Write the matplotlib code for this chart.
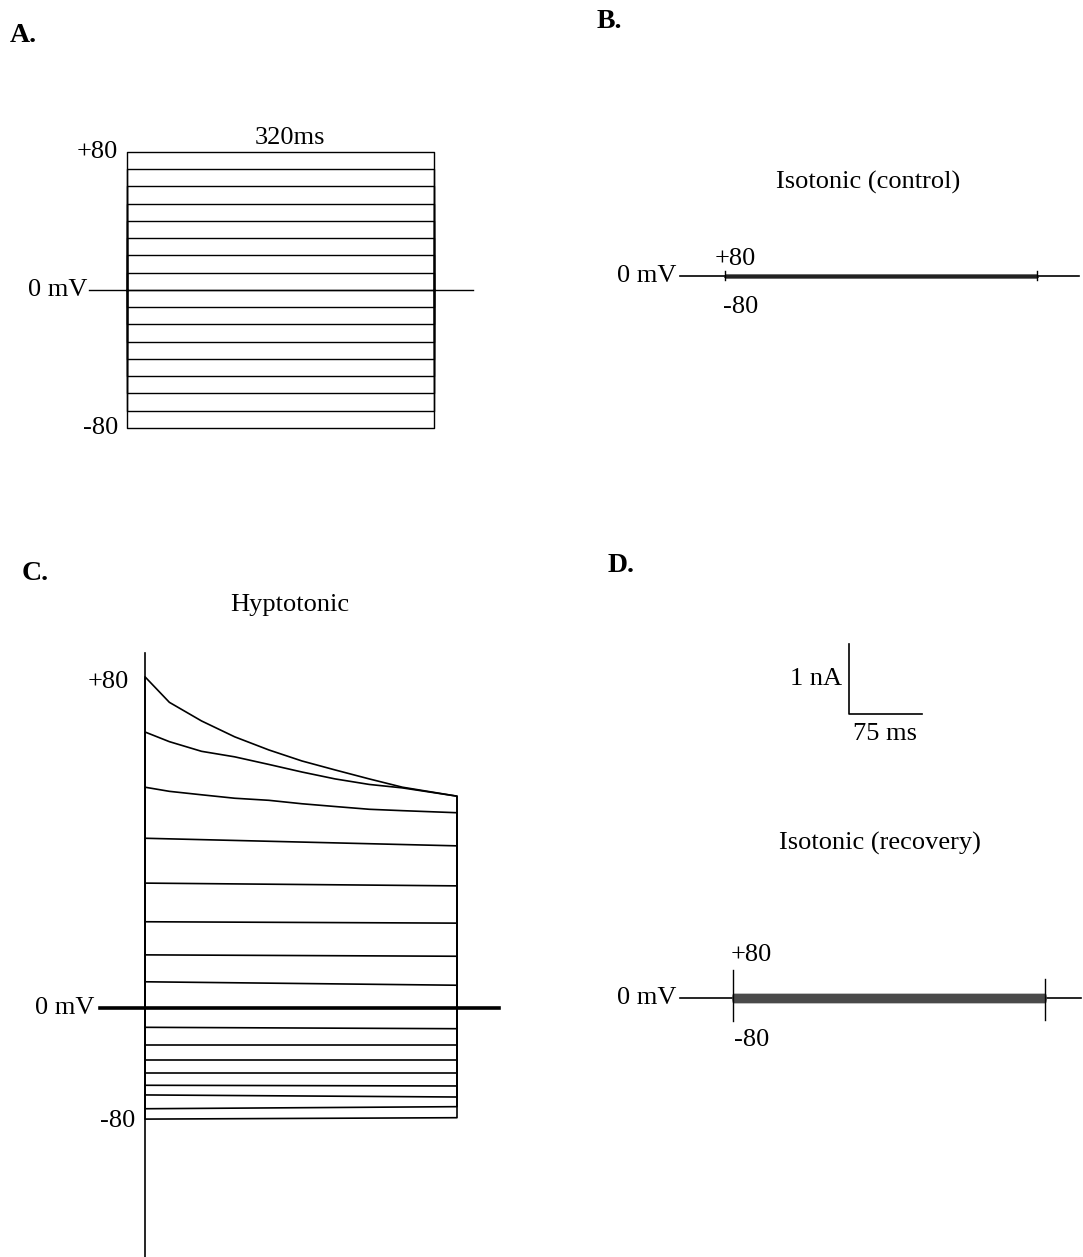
import numpy as np
import matplotlib
matplotlib.use("Agg")
from matplotlib import pyplot as plt

plt.rcParams["font.family"] = ["Liberation Serif", "DejaVu Serif"]

W, H = 1083, 1257

# voltage protocol (mV), 320 ms steps from a 0 mV holding level
steps_mV = [80, 70, 60, 50, 40, 30, 20, 10, 0, -10, -20, -30, -40, -50, -60, -70, -80]
step_ms = 320

# hypotonic currents (nA), start / end of each step
hypo_start = [4.80, 4.00, 3.20, 2.46, 1.81, 1.25, 0.77, 0.38, 0.0,
              -0.28, -0.54, -0.75, -0.94, -1.12, -1.26, -1.46, -1.61]
hypo_end = [3.07, 3.07, 2.83, 2.35, 1.77, 1.23, 0.75, 0.33, 0.0,
            -0.30, -0.54, -0.75, -0.94, -1.13, -1.29, -1.43, -1.59]
# the three largest steps inactivate, read at several times
decay_t = [0, 25, 58, 92, 127, 161, 195, 230, 264, 320]
hypo_80 = [4.80, 4.43, 4.16, 3.93, 3.74, 3.58, 3.45, 3.32, 3.20, 3.07]
hypo_70 = [4.00, 3.86, 3.72, 3.64, 3.53, 3.42, 3.32, 3.24, 3.19, 3.07]
hypo_60 = [3.20, 3.14, 3.09, 3.04, 3.01, 2.96, 2.92, 2.88, 2.86, 2.83]
hypo_spike = [5.15, -3.8]

# isotonic currents (nA), almost nothing
ctrl_start = [0.015, 0.013, 0.011, 0.01, 0.008, 0.006, 0.004, 0.002, 0.0,
              -0.002, -0.004, -0.006, -0.008, -0.01, -0.011, -0.013, -0.015]
ctrl_end = [0.015, 0.013, 0.011, 0.01, 0.008, 0.006, 0.004, 0.002, 0.0,
            -0.002, -0.004, -0.006, -0.008, -0.01, -0.011, -0.013, -0.015]
ctrl_spike = [0.07, -0.06]
rec_start = [0.06, 0.052, 0.045, 0.038, 0.03, 0.022, 0.015, 0.008, 0.0,
             -0.008, -0.015, -0.022, -0.03, -0.038, -0.045, -0.052, -0.06]
rec_end = [0.06, 0.052, 0.045, 0.038, 0.03, 0.022, 0.015, 0.008, 0.0,
           -0.008, -0.015, -0.022, -0.03, -0.038, -0.045, -0.052, -0.06]
rec_spike = [0.40, -0.33]
rec_spike_off = [0.27, -0.32]

fig = plt.figure(figsize=(W / 100, H / 100), dpi=100)


def panel_axes(x0, y0, sx, sy, xlim, ylim):
    # x0, y0: pixel position of t=0 / baseline, sx, sy: pixels per unit
    left = x0 + xlim[0] * sx
    right = x0 + xlim[1] * sx
    top = y0 - ylim[1] * sy
    bottom = y0 - ylim[0] * sy
    ax = fig.add_axes([left / W, 1 - bottom / H, (right - left) / W, (bottom - top) / H])
    ax.set_xlim(xlim)
    ax.set_ylim(ylim)
    ax.axis("off")
    return ax


fs = 19
lab = dict(fontsize=20, fontweight="bold")
fig.text(10 / W, 1 - 36 / H, "A.", ha="left", va="center", **lab)
fig.text(597 / W, 1 - 22 / H, "B.", ha="left", va="center", **lab)
fig.text(22 / W, 1 - 573 / H, "C.", ha="left", va="center", **lab)
fig.text(608 / W, 1 - 566 / H, "D.", ha="left", va="center", **lab)

# ---- A: voltage protocol
axA = panel_axes(127, 290, 0.96, 1.725, (-60, 380), (-100, 100))
for v in steps_mV:
    axA.plot([0, 0, step_ms, step_ms], [0, v, v, 0], "k-", lw=1.0)
axA.plot([-40, 360], [0, 0], "k-", lw=1.0)
axA.text(-41, 0, "0 mV", ha="right", va="center", fontsize=fs)
axA.text(-9, 80, "+80", ha="right", va="center", fontsize=fs)
axA.text(-9, -80, "-80", ha="right", va="center", fontsize=fs)
axA.text(170, 82, "320ms", ha="center", va="bottom", fontsize=fs)

sx, sy = 0.975, 69


def current_panel(ax, starts, ends, color, lw):
    for a, b in zip(starts, ends):
        ax.plot([0, 0, step_ms, step_ms], [0, a, b, 0], color=color, lw=lw)


# ---- B: isotonic control
axB = panel_axes(725, 276, sx, sy, (-60, 370), (-1, 1))
axB.plot([-46, 363], [0, 0], "k-", lw=1.2)
current_panel(axB, ctrl_start, ctrl_end, "#222222", 1.0)
axB.plot([0, 0], ctrl_spike, "k-", lw=1.0)
axB.plot([step_ms, step_ms], ctrl_spike, "k-", lw=1.0)
axB.text(-50, 0, "0 mV", ha="right", va="center", fontsize=fs)
axB.text(10, 0.24, "+80", ha="center", va="center", fontsize=fs)
axB.text(16, -0.45, "-80", ha="center", va="center", fontsize=fs)
axB.text(147, 1.35, "Isotonic (control)", ha="center", va="center", fontsize=fs)

# ---- C: hypotonic
axC = panel_axes(145, 1008, sx, sy, (-60, 370), (-4, 6.2))
for v, a, b in zip(steps_mV, hypo_start, hypo_end):
    if v >= 60:
        continue
    axC.plot([0, 0, step_ms, step_ms], [0, a, b, 0], "k-", lw=1.2)
for tr in (hypo_80, hypo_70, hypo_60):
    axC.plot([0] + decay_t + [step_ms], [0] + tr + [0], "k-", lw=1.2)
axC.plot([0, 0], hypo_spike, "k-", lw=1.2)
axC.plot([-46, 363], [0, 0], "k-", lw=2.6)
axC.text(-52, 0, "0 mV", ha="right", va="center", fontsize=fs)
axC.text(-17, 4.72, "+80", ha="right", va="center", fontsize=fs)
axC.text(-10, -1.64, "-80", ha="right", va="center", fontsize=fs)
axC.text(149, 5.84, "Hyptotonic", ha="center", va="center", fontsize=fs)

# ---- D: isotonic recovery + scale bar
axD = panel_axes(733, 998, sx, sy, (-60, 370), (-1, 6))
axD.plot([-54, 357], [0, 0], "k-", lw=1.2)
current_panel(axD, rec_start, rec_end, "#4a4a4a", 1.0)
axD.plot([0, 0], rec_spike, "k-", lw=1.0)
axD.plot([step_ms, step_ms], rec_spike_off, "k-", lw=1.0)
axD.text(-58, 0, "0 mV", ha="right", va="center", fontsize=fs)
axD.text(19, 0.62, "+80", ha="center", va="center", fontsize=fs)
axD.text(19, -0.61, "-80", ha="center", va="center", fontsize=fs)
axD.text(151, 2.24, "Isotonic (recovery)", ha="center", va="center", fontsize=fs)
axD.plot([119, 119, 194], [5.13, 4.12, 4.12], "k-", lw=1.2)
axD.text(112, 4.62, "1 nA", ha="right", va="center", fontsize=fs)
axD.text(156, 3.82, "75 ms", ha="center", va="center", fontsize=fs)

plt.savefig("out.png", dpi=100)
